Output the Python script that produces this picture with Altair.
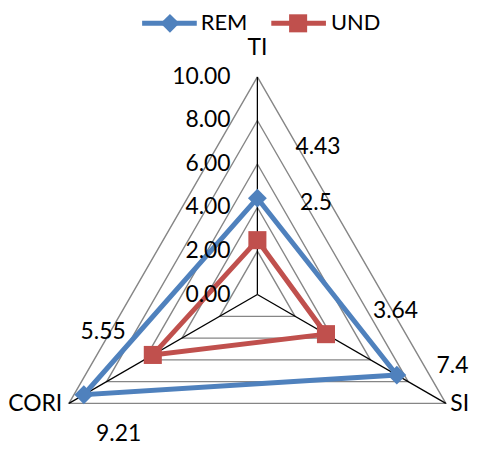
import altair as alt
import pandas as pd
import numpy as np

# ---- data ----
categories = ["TI", "SI", "CORI"]
series_names = ["REM", "UND"]
rem_values = [4.43, 7.4, 9.21]
und_values = [2.5, 3.64, 5.55]
rem_labels = ["4.43", "7.4", "9.21"]
und_labels = ["2.5", "3.64", "5.55"]
grid_levels = [2, 4, 6, 8, 10]
tick_values = [0, 2, 4, 6, 8, 10]
tick_labels = ["0.00", "2.00", "4.00", "6.00", "8.00", "10.00"]

# ---- styling / layout ----
COLORS = {"REM": "#4F81BD", "UND": "#C0504D"}
FONT = "Lato"
FS = 23
LEG_FS = 22
W, H = 466, 438
K = 21.9             # pixels per unit
CX, CY = 251, 287    # centre inside plot area (px)
ANGLES = {"TI": 0.0, "SI": 120.0, "CORI": 240.0}
# pixel nudges for the data labels (same order as categories)
REM_LABEL_OFFSETS = [(61, -51), (56, -9), (35, 40)]
UND_LABEL_OFFSETS = [(59, -37), (70, -23), (-50, -23)]
CAT_LABEL_OFFSETS = {"TI": (0, -29), "SI": (14, 1), "CORI": (-34, 1)}
TICK_DX = -27
# legend layout in page pixels: (line start, line end, marker centre, text start), row y
LEGEND_LAYOUT = {"REM": (143, 198, 171, 202), "UND": (273, 328, 300, 333)}
LEGEND_Y = 22

def polar(cat, v):
    a = np.deg2rad(ANGLES[cat])
    return v * np.sin(a), v * np.cos(a)

def px(dx, dy):
    return dx / K, -dy / K

def page_to_data(pxx, pyy):
    return (pxx - 8 - CX) / K, (8 + CY - pyy) / K

xdom = [-CX / K, (W - CX) / K]
ydom = [(CY - H) / K, CY / K]
xs = alt.Scale(domain=xdom, nice=False, zero=False)
ys = alt.Scale(domain=ydom, nice=False, zero=False)

# grid triangles
grid_rows = []
for lv in grid_levels:
    for i, c in enumerate(categories + [categories[0]]):
        x, y = polar(c, lv)
        grid_rows.append({"level": lv, "order": i, "x": x, "y": y})
grid_df = pd.DataFrame(grid_rows)

# spokes
spoke_rows = []
for c in categories:
    x, y = polar(c, 10)
    spoke_rows.append({"cat": c, "order": 0, "x": 0.0, "y": 0.0})
    spoke_rows.append({"cat": c, "order": 1, "x": x, "y": y})
spoke_df = pd.DataFrame(spoke_rows)

# series
ser_rows = []
pt_rows = []
lab_rows = []
for name, vals, labs, offs in [("REM", rem_values, rem_labels, REM_LABEL_OFFSETS),
                               ("UND", und_values, und_labels, UND_LABEL_OFFSETS)]:
    for i, c in enumerate(categories + [categories[0]]):
        v = vals[i % 3]
        x, y = polar(c, v)
        ser_rows.append({"series": name, "order": i, "x": x, "y": y})
    for i, c in enumerate(categories):
        x, y = polar(c, vals[i])
        pt_rows.append({"series": name, "cat": c, "x": x, "y": y})
        ox, oy = px(*offs[i])
        lab_rows.append({"series": name, "text": labs[i], "x": x + ox, "y": y + oy})
ser_df = pd.DataFrame(ser_rows)
pt_df = pd.DataFrame(pt_rows)
lab_df = pd.DataFrame(lab_rows)

# category labels
cat_rows = []
for c in categories:
    x, y = polar(c, 10)
    ox, oy = px(*CAT_LABEL_OFFSETS[c])
    cat_rows.append({"text": c, "x": x + ox, "y": y + oy})
cat_df = pd.DataFrame(cat_rows)

# tick labels
tick_df = pd.DataFrame({"text": tick_labels, "x": [TICK_DX / K] * len(tick_values),
                        "y": [float(v) for v in tick_values]})

# legend entries
leg_rows = []
for s in series_names:
    a, b, m, t = LEGEND_LAYOUT[s]
    x1, yy = page_to_data(a, LEGEND_Y)
    x2, _ = page_to_data(b, LEGEND_Y)
    xm, _ = page_to_data(m, LEGEND_Y)
    xt, _ = page_to_data(t, LEGEND_Y)
    leg_rows.append({"series": s, "x1": x1, "x2": x2, "xm": xm, "xt": xt, "y": yy})
leg_df = pd.DataFrame(leg_rows)

enc = dict(x=alt.X("x:Q", scale=xs, axis=None), y=alt.Y("y:Q", scale=ys, axis=None))
color_scale = alt.Scale(domain=series_names, range=[COLORS[s] for s in series_names])
col = alt.Color("series:N", scale=color_scale, legend=None)

grid = alt.Chart(grid_df).mark_line(color="#868686", strokeWidth=1.4).encode(
    detail="level:N", order="order:Q", **enc)
spokes = alt.Chart(spoke_df).mark_line(color="#000000", strokeWidth=1.3).encode(
    detail="cat:N", order="order:Q", **enc)

lines = alt.Chart(ser_df).mark_line(strokeWidth=5, strokeJoin="miter").encode(
    color=col, detail="series:N", order="order:Q", **enc)
rem_pts = alt.Chart(pt_df[pt_df.series == "REM"]).mark_point(
    shape="diamond", filled=True, size=360, opacity=1, color=COLORS["REM"]).encode(**enc)
und_pts = alt.Chart(pt_df[pt_df.series == "UND"]).mark_square(
    size=330, opacity=1, color=COLORS["UND"]).encode(**enc)

labels = alt.Chart(lab_df).mark_text(font=FONT, fontSize=FS, color="#000000").encode(
    text="text:N", **enc)
cats = alt.Chart(cat_df).mark_text(font=FONT, fontSize=FS, color="#000000").encode(
    text="text:N", **enc)
ticks = alt.Chart(tick_df).mark_text(font=FONT, fontSize=FS, color="#000000", align="right").encode(
    text="text:N", **enc)

# legend drawn as marks
leg_base = alt.Chart(leg_df)
leg_lines = leg_base.mark_rule(strokeWidth=5).encode(
    x=alt.X("x1:Q", scale=xs, axis=None), x2="x2:Q",
    y=alt.Y("y:Q", scale=ys, axis=None), color=col)
leg_rem = alt.Chart(leg_df[leg_df.series == "REM"]).mark_point(
    shape="diamond", filled=True, size=360, opacity=1, color=COLORS["REM"]).encode(
    x=alt.X("xm:Q", scale=xs, axis=None), y=alt.Y("y:Q", scale=ys, axis=None))
leg_und = alt.Chart(leg_df[leg_df.series == "UND"]).mark_square(
    size=330, opacity=1, color=COLORS["UND"]).encode(
    x=alt.X("xm:Q", scale=xs, axis=None), y=alt.Y("y:Q", scale=ys, axis=None))
leg_text = leg_base.mark_text(font=FONT, fontSize=LEG_FS, color="#000000", align="left").encode(
    x=alt.X("xt:Q", scale=xs, axis=None), y=alt.Y("y:Q", scale=ys, axis=None), text="series:N")

chart = alt.layer(grid, spokes, lines, rem_pts, und_pts, labels, cats, ticks,
                  leg_lines, leg_rem, leg_und, leg_text).properties(
    width=W, height=H, padding=0, autosize=alt.AutoSizeParams(type="none")
).configure_view(stroke=None)

chart.save("out.html", embed_options={"renderer": "svg", "actions": False})
